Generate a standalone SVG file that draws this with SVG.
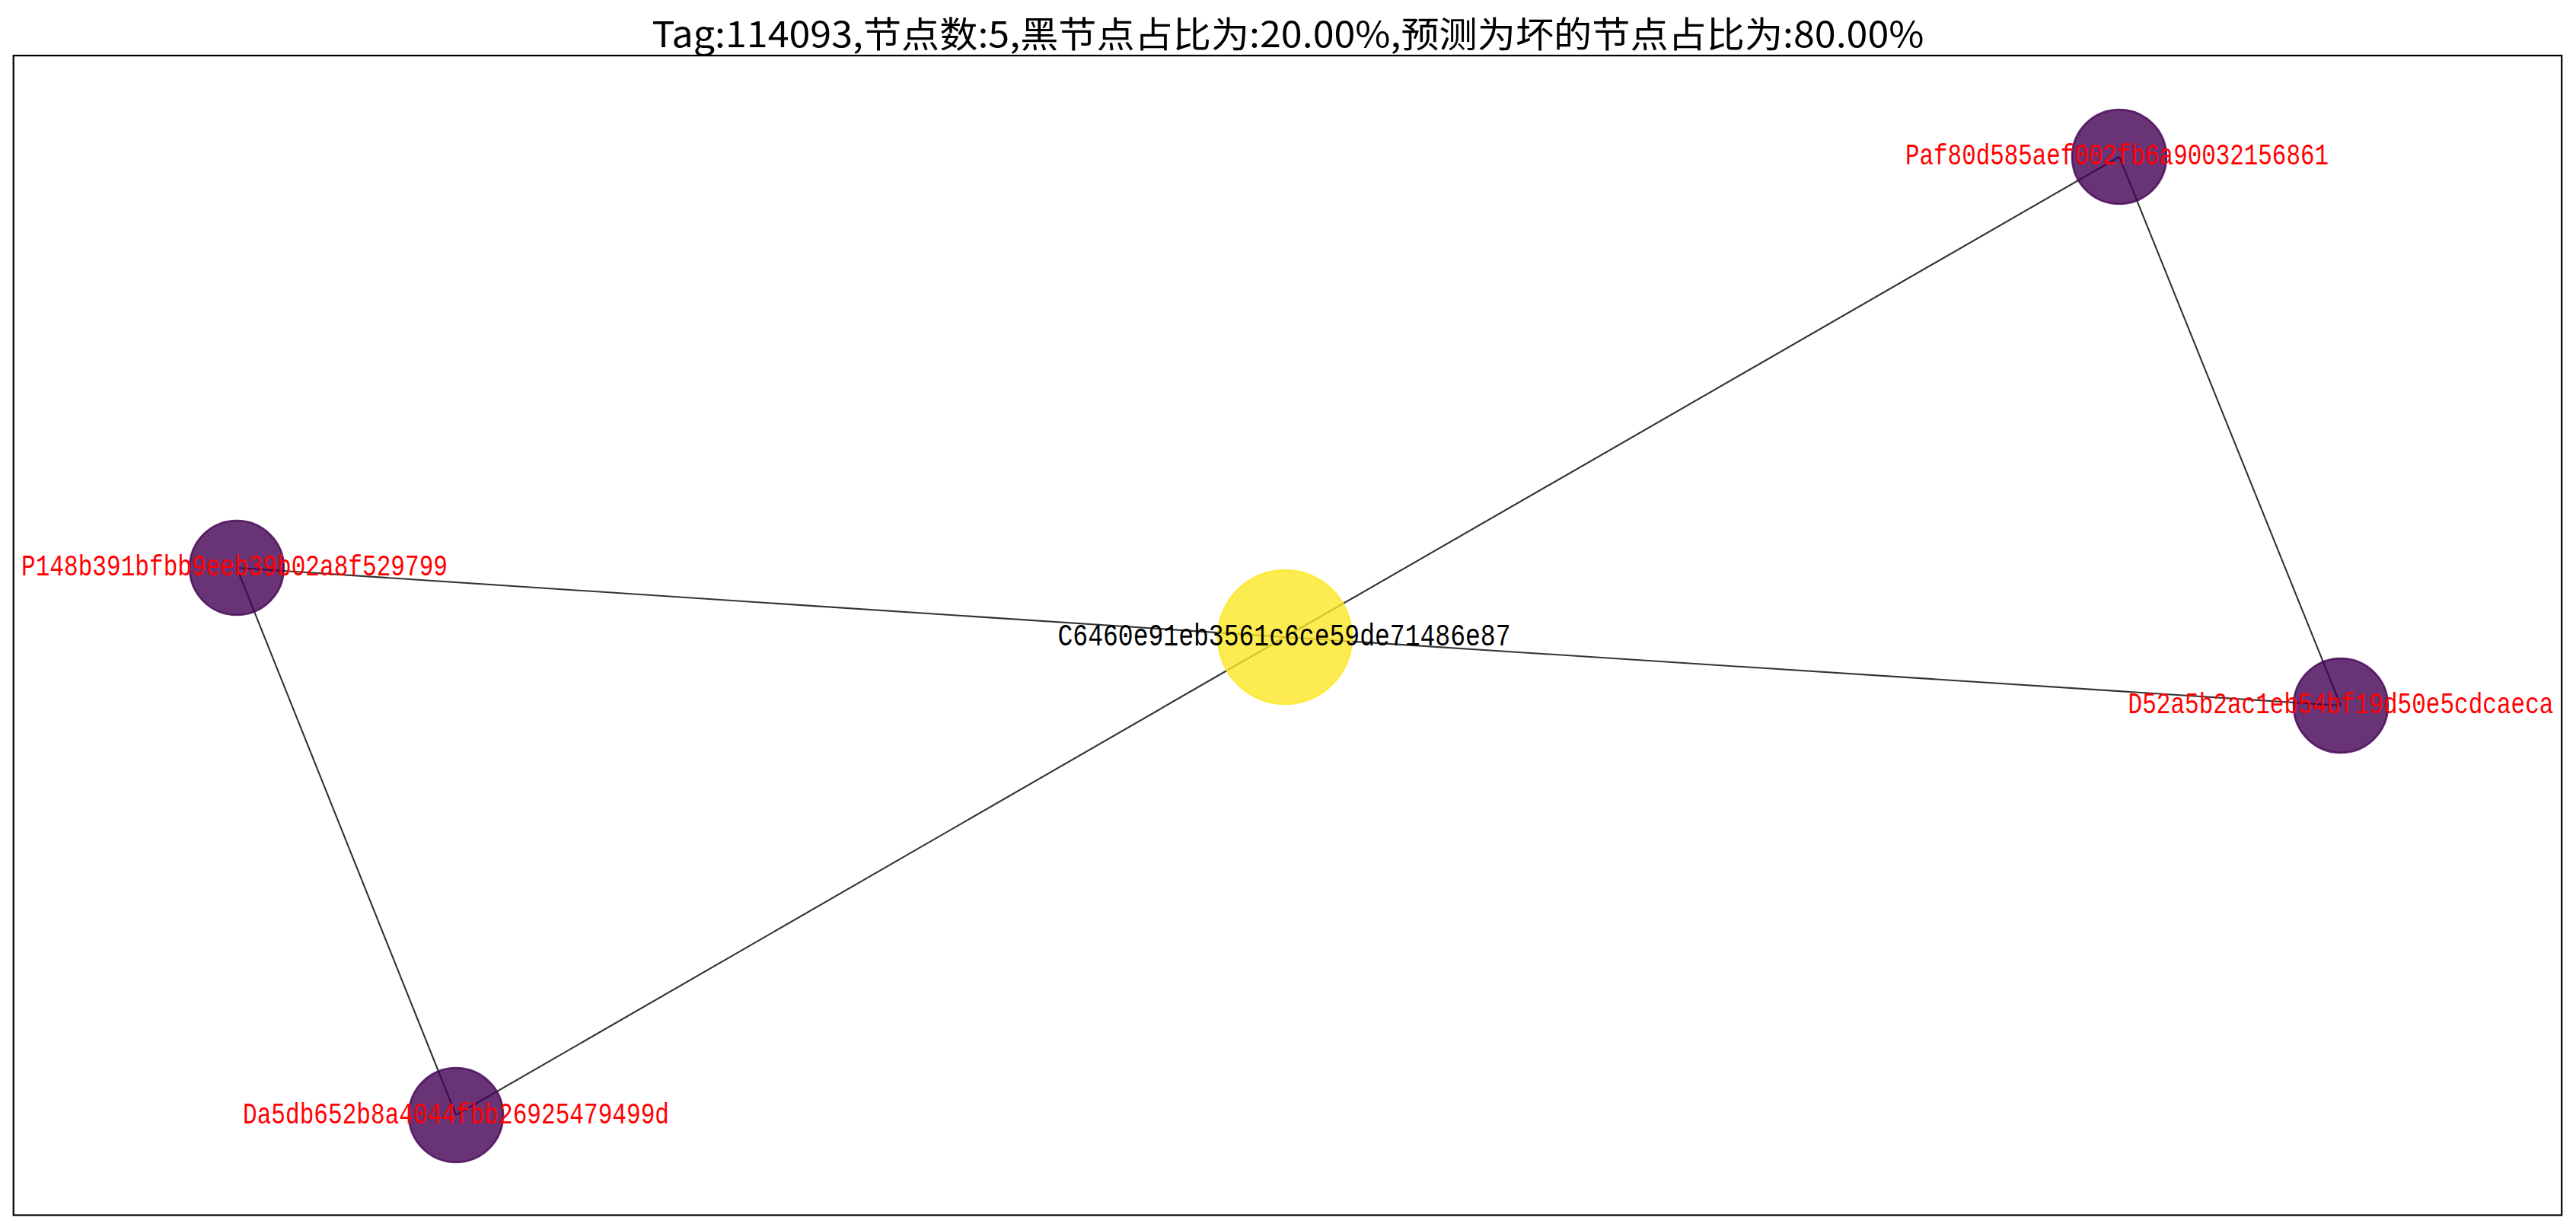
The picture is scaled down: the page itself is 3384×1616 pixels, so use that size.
<svg xmlns="http://www.w3.org/2000/svg" width="3384" height="1616" viewBox="0 0 3384 1616">
<style>
.edge{stroke:#000;stroke-opacity:0.8;stroke-width:2.1;fill:none}
.bad{fill:#440154;fill-opacity:0.8;stroke:#440154;stroke-opacity:0.8;stroke-width:2.5}
.cen{fill:#fde725;fill-opacity:0.8;stroke:#fde725;stroke-opacity:0.8;stroke-width:2.5}
.lbl{font-family:"Liberation Mono","DejaVu Sans Mono",monospace;font-size:39px;text-anchor:middle}
.red{fill:#ff0000}
.blk{fill:#000000}
.title{font-family:"Noto Sans CJK SC","Noto Sans",sans-serif;font-size:47px;text-anchor:middle;fill:#000}
</style>
<rect x="0" y="0" width="3384" height="1616" fill="#ffffff"/>
<text class="title" x="1692" y="62" textLength="1671" lengthAdjust="spacingAndGlyphs">Tag:114093,节点数:5,黑节点占比为:20.00%,预测为坏的节点占比为:80.00%</text>
<rect x="17.7" y="73" width="3347.5" height="1523.5" fill="none" stroke="#000" stroke-width="2.2"/>
<g id="edges">
<line class="edge" x1="311" y1="746" x2="1688" y2="837"/>
<line class="edge" x1="1688" y1="837" x2="3075" y2="927"/>
<line class="edge" x1="1688" y1="837" x2="2784" y2="206"/>
<line class="edge" x1="1688" y1="837" x2="599" y2="1465"/>
<line class="edge" x1="2784" y1="206" x2="3075" y2="927"/>
<line class="edge" x1="311" y1="746" x2="599" y2="1465"/>
</g>
<g id="node-C6460e91eb3561c6ce59de71486e87">
<circle class="cen" cx="1688" cy="837" r="88"/>
</g>
<g id="node-Paf80d585aef002fb6a90032156861">
<circle class="bad" cx="2784" cy="206" r="62"/>
</g>
<g id="node-P148b391bfbb9eeb39b02a8f529799">
<circle class="bad" cx="311" cy="746" r="62"/>
</g>
<g id="node-D52a5b2ac1eb54bf19d50e5cdcaeca">
<circle class="bad" cx="3075" cy="927" r="62"/>
</g>
<g id="node-Da5db652b8a4044fbb26925479499d">
<circle class="bad" cx="599" cy="1465" r="62"/>
</g>
<g id="labels">
<text class="lbl blk" x="1687" y="848" textLength="595" lengthAdjust="spacingAndGlyphs" style="font-size:41px">C6460e91eb3561c6ce59de71486e87</text>
<text class="lbl red" x="2781" y="216" textLength="556" lengthAdjust="spacingAndGlyphs">Paf80d585aef002fb6a90032156861</text>
<text class="lbl red" x="308" y="756" textLength="560" lengthAdjust="spacingAndGlyphs">P148b391bfbb9eeb39b02a8f529799</text>
<text class="lbl red" x="3075" y="937" textLength="559" lengthAdjust="spacingAndGlyphs">D52a5b2ac1eb54bf19d50e5cdcaeca</text>
<text class="lbl red" x="599" y="1476" textLength="560" lengthAdjust="spacingAndGlyphs">Da5db652b8a4044fbb26925479499d</text>
</g>
</svg>
